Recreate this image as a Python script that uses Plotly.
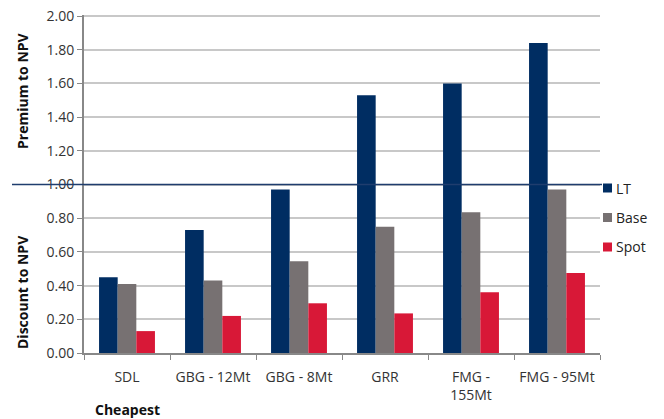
import plotly.graph_objects as go

categories = ["SDL", "GBG - 12Mt", "GBG - 8Mt", "GRR", "FMG -<br>155Mt", "FMG - 95Mt"]
lt = [0.45, 0.73, 0.97, 1.53, 1.60, 1.84]
base = [0.41, 0.43, 0.545, 0.75, 0.835, 0.97]
spot = [0.13, 0.22, 0.295, 0.235, 0.36, 0.475]
series_names = ["LT", "Base", "Spot"]
series_colors = ["#002D62", "#777172", "#D81837"]
yticks = [0, 0.2, 0.4, 0.6, 0.8, 1.0, 1.2, 1.4, 1.6, 1.8, 2.0]

FONT = "Open Sans"
fig = go.Figure()
for name, vals, col in zip(series_names, [lt, base, spot], series_colors):
    fig.add_trace(go.Bar(x=categories, y=vals, name=name, showlegend=False,
                         marker=dict(color=col, line=dict(width=0))))

W, H = 664, 419
L, R, T, B = 84, 664 - 600, 15, 419 - 353
pw = W - L - R
ph = H - T - B


def px(xw):
    return (xw - L) / pw


def py(yw):
    return (H - B - yw) / ph


fig.update_layout(
    width=W, height=H,
    margin=dict(l=L, r=R, t=T, b=B, autoexpand=False),
    paper_bgcolor="white", plot_bgcolor="white",
    barmode="group", bargap=0.35, bargroupgap=0,
    font=dict(family=FONT, size=14, color="#333333"),
    showlegend=False,
    xaxis=dict(type="category", showline=True, linecolor="#888888", linewidth=2,
               ticks="outside", tickson="boundaries", ticklen=5, tickcolor="#888888",
               ticklabelstandoff=10,
               tickfont=dict(size=14, color="#333333"), showgrid=False),
    yaxis=dict(range=[0, 2.006], tickvals=yticks, tickformat=".2f", showline=True,
               linecolor="#888888", linewidth=2, ticks="outside", ticklen=5, tickcolor="#888888",
               gridcolor="#C8C8C8", gridwidth=1.5, tickfont=dict(size=14, color="#333333"), zeroline=False),
)

fig.add_shape(type="line", xref="paper", yref="y", x0=px(12), x1=px(602), y0=1.0, y1=1.0,
              line=dict(color="#1F3D6E", width=1.5))

# custom legend
for i, (name, col) in enumerate(zip(series_names, series_colors)):
    cy = 188 + i * 29.5
    fig.add_shape(type="rect", xref="paper", yref="paper", x0=px(603), x1=px(612),
                  y0=py(cy + 4.5), y1=py(cy - 4.5), fillcolor=col, line=dict(width=0))
    fig.add_annotation(text=name, xref="paper", yref="paper", x=px(614), y=py(cy),
                       showarrow=False, xanchor="left", yanchor="middle",
                       font=dict(size=14, color="#222222"))

fig.add_annotation(text="<b>Premium to NPV</b>", xref="paper", yref="paper", x=px(22), y=py(91),
                   textangle=-90, showarrow=False, font=dict(size=14, color="#111111"), xanchor="center", yanchor="middle")
fig.add_annotation(text="<b>Discount to NPV</b>", xref="paper", yref="paper", x=px(22), y=py(292),
                   textangle=-90, showarrow=False, font=dict(size=14, color="#111111"), xanchor="center", yanchor="middle")
fig.add_annotation(text="<b>Cheapest</b>", xref="paper", yref="paper", x=px(93), y=py(409),
                   showarrow=False, font=dict(size=14, color="#111111"), xanchor="left", yanchor="middle")

fig.write_html("out.html", config={"displayModeBar": False},
               post_script="document.body.style.margin='0';document.body.style.overflow='hidden';")
